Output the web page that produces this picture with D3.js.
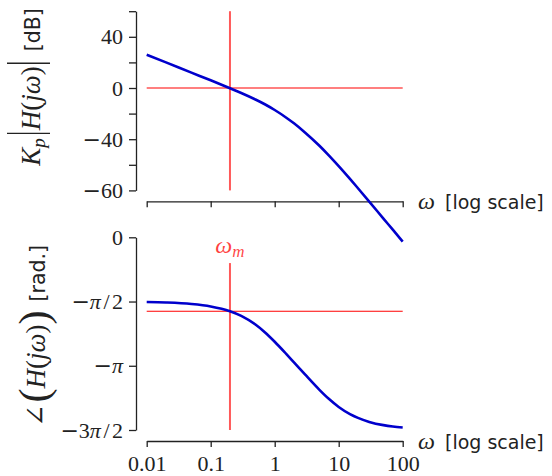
<!DOCTYPE html>
<html>
<head>
<meta charset="utf-8">
<script src="https://cdn.jsdelivr.net/npm/d3@7"></script>
<style>
  body { margin: 0; background: #fff; }
  svg { display: block; }
</style>
</head>
<body>
<svg id="chart" width="552" height="476"></svg>
<script>
// Frequency samples (rad/s) and the open-loop response at each of them
const omega = [0.01, 0.02, 0.05, 0.1, 0.2, 0.3, 0.5, 0.7, 1, 1.5, 2, 3, 5, 7, 10, 15, 20, 30, 50, 70, 100];
const magnitudeDb = [26.0, 20.0, 12.0, 6.0, -0.2, -3.9, -9.0, -12.7, -17.2, -23.0, -27.6, -34.9, -45.1, -52.6, -61.0, -71.0, -78.3, -88.7, -102.0, -110.7, -120.0];
const phaseRad = [-1.583, -1.595, -1.631, -1.691, -1.808, -1.922, -2.134, -2.321, -2.554, -2.845, -3.058, -3.360, -3.730, -3.950, -4.149, -4.324, -4.417, -4.514, -4.593, -4.627, -4.652];

// Crossover marker
const omegaM = 0.2;
const phaseAtOmegaM = -1.808;
const markerTopPhase = -0.63;

// Axis ticks
const freqTicks = [0.01, 0.1, 1, 10, 100];
const freqTickLabels = ["0.01", "0.1", "1", "10", "100"];
const magTicks = [60, 40, 20, 0, -20, -40, -60, -80];
const magTickLabels = ["", "40", "", "0", "", "−40", "", "−60"];
const phaseTicks = [0, -Math.PI / 2, -Math.PI, -3 * Math.PI / 2];
const phaseTickLabels = ["0", "−π/2", "−π", "−3π/2"];

const SERIF = "'Liberation Serif', 'DejaVu Serif', serif";
const SANS = "'DejaVu Sans', sans-serif";
const INK = "#222";

const svg = d3.select("#chart");

const x = d3.scaleLog().domain([0.01, 100]).range([146.7, 402.7]);
const yMag = d3.scaleLinear().domain([-80, 60]).range([190.4, 11.2]);
const yPh = d3.scaleLinear().domain([-3 * Math.PI / 2, 0]).range([430, 237.3]);

const spineX = 136;
const magAxisY = 201.3;
const phAxisY = 441;

// Set tick labels like typeset math: wide minus, italic π, spaced slash
function mathTick(textSel) {
  textSel.each(function () {
    const el = d3.select(this);
    const s = el.text();
    el.text(null);
    let afterSlash = false;
    s.split(/(π|−|\/)/).filter(p => p.length).forEach(p => {
      const ts = el.append("tspan").text(p);
      if (afterSlash) { ts.attr("dx", 2.5); afterSlash = false; }
      if (p === "π") ts.attr("font-style", "italic");
      if (p === "−") ts.attr("font-family", "'DejaVu Serif', serif").attr("dx", 0);
      if (p === "/") { ts.attr("dx", 2.5); afterSlash = true; }
    });
  });
}

function styleAxis(g) {
  g.attr("font-family", SERIF).attr("font-size", 22);
  g.selectAll("path.domain").attr("stroke", INK).attr("stroke-width", 1.3);
  g.selectAll(".tick line").attr("stroke", INK).attr("stroke-width", 1.3);
  g.selectAll(".tick text")
    .attr("fill", INK)
    .attr("font-family", SERIF)
    .attr("font-size", 22)
    .call(mathTick);
}

// ---- magnitude panel ----
svg.append("g")
  .attr("transform", `translate(${spineX},0)`)
  .call(d3.axisLeft(yMag).tickValues(magTicks)
    .tickFormat((d, i) => magTickLabels[i])
    .tickSize(7).tickSizeOuter(0).tickPadding(6))
  .call(styleAxis);

svg.append("g")
  .attr("transform", `translate(0,${magAxisY})`)
  .call(d3.axisBottom(x).tickValues(freqTicks).tickFormat("")
    .tickSize(6).tickSizeOuter(0))
  .call(styleAxis);

// ---- phase panel ----
svg.append("g")
  .attr("transform", `translate(${spineX},0)`)
  .call(d3.axisLeft(yPh).tickValues(phaseTicks)
    .tickFormat((d, i) => phaseTickLabels[i])
    .tickSize(7).tickSizeOuter(0).tickPadding(6))
  .call(styleAxis);

svg.append("g")
  .attr("transform", `translate(0,${phAxisY})`)
  .call(d3.axisBottom(x).tickValues(freqTicks)
    .tickFormat((d, i) => freqTickLabels[i])
    .tickSize(6).tickSizeOuter(0).tickPadding(8))
  .call(styleAxis);

// ---- reference lines ----
const xDom = x.domain();
function refLine(x1, y1, x2, y2, width, opacity) {
  svg.append("line")
    .attr("x1", x1).attr("y1", y1).attr("x2", x2).attr("y2", y2)
    .attr("stroke", "#ff0000").attr("stroke-width", width)
    .attr("stroke-opacity", opacity);
}
refLine(x(xDom[0]), yMag(0), x(xDom[1]), yMag(0), 1.2, 1);
refLine(x(omegaM), yMag(60), x(omegaM), yMag(-80), 2, 0.65);
refLine(x(xDom[0]), yPh(phaseAtOmegaM), x(xDom[1]), yPh(phaseAtOmegaM), 1.2, 1);
refLine(x(omegaM), yPh(markerTopPhase), x(omegaM), yPh(-3 * Math.PI / 2), 2, 0.65);

const wm = svg.append("text")
  .attr("x", x(omegaM)).attr("y", yPh(markerTopPhase) - 10)
  .attr("text-anchor", "middle")
  .attr("fill", "#ff0000").attr("fill-opacity", 0.75)
  .attr("font-family", SERIF).attr("font-style", "italic");
wm.append("tspan").attr("font-size", 24).text("ω");
wm.append("tspan").attr("font-size", 17).attr("dy", 4).text("m");

// ---- response curves ----
const pts = omega.map((w, i) => ({ w, mag: magnitudeDb[i], ph: phaseRad[i] }));
const curveStyle = p => p.attr("fill", "none").attr("stroke", "#0000cc")
  .attr("stroke-width", 2.6).attr("stroke-linejoin", "round");

svg.append("path").datum(pts)
  .attr("d", d3.line().x(d => x(d.w)).y(d => yMag(d.mag)).curve(d3.curveMonotoneX))
  .call(curveStyle);
svg.append("path").datum(pts)
  .attr("d", d3.line().x(d => x(d.w)).y(d => yPh(d.ph)).curve(d3.curveMonotoneX))
  .call(curveStyle);

// ---- axis titles ----
function xTitle(yAxis) {
  const t = svg.append("text").attr("y", yAxis + 7.5).attr("fill", INK);
  t.append("tspan").attr("x", 418).attr("font-family", SERIF)
    .attr("font-style", "italic").attr("font-size", 24).text("ω");
  t.append("tspan").attr("x", 445).attr("font-family", SANS)
    .attr("font-size", 19).text("[log scale]");
}
xTitle(magAxisY);
xTitle(phAxisY);

// Lay out a rotated label from pieces of text, tall bars and gaps
function rotatedLabel(cx, cy, pieces) {
  const outer = svg.append("g").attr("transform", `translate(${cx},${cy}) rotate(-90)`);
  const g = outer.append("g");
  let pos = 0;
  pieces.forEach(p => {
    if (p.gap !== undefined) { pos += p.gap; return; }
    if (p.bar) {
      g.append("line")
        .attr("x1", pos + p.pad).attr("x2", pos + p.pad)
        .attr("y1", p.y1).attr("y2", p.y2)
        .attr("stroke", INK).attr("stroke-width", 1.3);
      pos += 2 * p.pad;
      return;
    }
    const t = g.append("text")
      .attr("x", pos).attr("y", p.dy || 0)
      .attr("fill", INK)
      .attr("font-family", p.sans ? SANS : SERIF)
      .attr("font-size", p.size)
      .attr("font-style", p.italic ? "italic" : "normal")
      .text(p.t);
    pos += t.node().getComputedTextLength();
  });
  g.attr("transform", `translate(${-pos / 2},0)`);
}

const M = 27;
rotatedLabel(40, 87, [
  { t: "K", size: M, italic: true },
  { t: "p", size: 19, italic: true, dy: 5 },
  { gap: 2 },
  { bar: true, pad: 3, y1: 10, y2: -33 },
  { t: "H", size: M, italic: true },
  { t: "(", size: M },
  { t: "j", size: M, italic: true },
  { t: "ω", size: M, italic: true },
  { t: ")", size: M },
  { bar: true, pad: 3, y1: 10, y2: -33 },
  { gap: 9 },
  { t: "[dB]", size: 20.5, sans: true }
]);

rotatedLabel(45, 336, [
  { t: "∠", size: M },
  { gap: 2 },
  { t: "(", size: 42, dy: 3 },
  { t: "H", size: M, italic: true },
  { t: "(", size: M },
  { t: "j", size: M, italic: true },
  { t: "ω", size: M, italic: true },
  { t: ")", size: M },
  { t: ")", size: 42, dy: 3 },
  { gap: 9 },
  { t: "[rad.]", size: 20.5, sans: true }
]);
</script>
</body>
</html>
